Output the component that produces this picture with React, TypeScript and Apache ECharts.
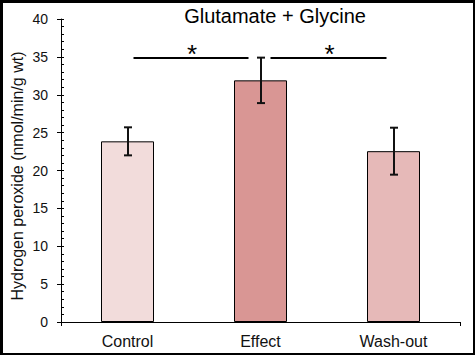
import React, { useEffect, useRef } from "react";
import * as echarts from "echarts";

const categories = ["Control", "Effect", "Wash-out"];
const means = [23.85, 31.9, 22.55];
const errors = [1.85, 3.0, 3.1];
const barColors = ["#F2DCDB", "#D99694", "#E6B9B8"];
const sigPairs = [
  [0, 1, 34.8],
  [1, 2, 34.85],
];
const yTicks = { min: 0, max: 40, interval: 5 };
const titleText = "Glutamate + Glycine";
const yName = "Hydrogen peroxide (nmol/min/g wt)";

const FONT = "'Liberation Sans', Arial, sans-serif";

export default function App() {
  const ref = useRef<HTMLDivElement>(null);
  useEffect(() => {
    document.body.style.margin = "0";
    const chart = echarts.init(ref.current!, null, { renderer: "svg" });
    const sigStartOff = [6, 10];
    const sigEndOff = [-12, -7];
    chart.setOption({
      animation: false,
      backgroundColor: "#ffffff",
      title: {
        text: titleText,
        left: 275,
        top: 6,
        padding: 0,
        textAlign: "center",
        textStyle: { fontFamily: FONT, fontSize: 20, fontWeight: "normal", color: "#000" },
      },
      graphic: [
        {
          type: "text",
          x: 17,
          y: 176,
          rotation: Math.PI / 2,
          style: {
            text: yName,
            fontFamily: FONT,
            fontSize: 16,
            fill: "#111",
            align: "center",
            verticalAlign: "middle",
          },
        },
      ],
      grid: { left: 61, right: 15, top: 19, bottom: 33, containLabel: false },
      xAxis: [
        {
          type: "category",
          data: categories,
          axisLine: { lineStyle: { color: "#000", width: 1 } },
          axisTick: { alignWithLabel: true, length: 4, lineStyle: { color: "#000" } },
          axisLabel: { fontFamily: FONT, fontSize: 16, color: "#111", margin: 11 },
        },
        {
          type: "value",
          position: "bottom",
          min: 0,
          max: 1,
          interval: 1,
          axisLine: { show: false },
          axisTick: { show: true, length: 4, lineStyle: { color: "#000" } },
          axisLabel: { show: false },
          splitLine: { show: false },
        },
      ],
      yAxis: [
        {
          type: "value",
          min: yTicks.min,
          max: yTicks.max,
          interval: yTicks.interval,
          axisLine: { show: true, lineStyle: { color: "#000", width: 1 } },
          axisTick: { show: true, inside: true, length: 3, lineStyle: { color: "#000" } },
          minorTick: { show: true, splitNumber: 5, length: 3, lineStyle: { color: "#000" } },
          axisLabel: { fontFamily: FONT, fontSize: 14, color: "#111", margin: 13 },
          splitLine: { show: false },
        },
        {
          type: "value",
          position: "left",
          min: yTicks.min,
          max: yTicks.max,
          interval: yTicks.interval,
          axisLine: { show: false },
          axisTick: { show: true, inside: false, length: 4, lineStyle: { color: "#000" } },
          axisLabel: { show: false },
          splitLine: { show: false },
        },
      ],
      series: [
        {
          type: "bar",
          xAxisIndex: 0,
          yAxisIndex: 0,
          barWidth: 53,
          data: means.map((v, i) => ({
            value: v,
            itemStyle: { color: barColors[i], borderColor: "#000", borderWidth: 1 },
          })),
        },
        {
          type: "custom",
          xAxisIndex: 0,
          yAxisIndex: 0,
          data: means.map((m, i) => [i, m - errors[i], m + errors[i]]),
          renderItem: (params: any, api: any) => {
            const lo = api.coord([api.value(0), api.value(1)]);
            const hi = api.coord([api.value(0), api.value(2)]);
            const x = Math.round(lo[0]);
            const w = 4;
            const style = { stroke: "#111", lineWidth: 2 };
            return {
              type: "group",
              children: [
                { type: "line", shape: { x1: x, y1: hi[1], x2: x, y2: lo[1] }, style },
                { type: "line", shape: { x1: x - w, y1: hi[1], x2: x + w, y2: hi[1] }, style },
                { type: "line", shape: { x1: x - w, y1: lo[1], x2: x + w, y2: lo[1] }, style },
              ],
            };
          },
          z: 5,
        },
        {
          type: "custom",
          xAxisIndex: 0,
          yAxisIndex: 0,
          data: sigPairs,
          renderItem: (params: any, api: any) => {
            const i = params.dataIndex;
            const a = api.coord([api.value(0), api.value(2)]);
            const b = api.coord([api.value(1), api.value(2)]);
            const x1 = a[0] + sigStartOff[i];
            const x2 = b[0] + sigEndOff[i];
            const y = Math.round(a[1]);
            return {
              type: "group",
              children: [
                { type: "line", shape: { x1, y1: y, x2, y2: y }, style: { stroke: "#000", lineWidth: 2 } },
                {
                  type: "text",
                  x: (x1 + x2) / 2 + 1,
                  y: y + 9,
                  style: {
                    text: "*",
                    fontFamily: FONT,
                    fontSize: 26,
                    fill: "#000",
                    align: "center",
                    verticalAlign: "bottom",
                  },
                },
              ],
            };
          },
          z: 6,
        },
      ],
    });
    return () => chart.dispose();
  }, []);
  return (
    <div style={{ position: "fixed", left: 0, top: 0, width: 475, height: 355 }}>
      <div ref={ref} style={{ width: 475, height: 355 }} />
      <div
        style={{
          position: "absolute",
          left: 0,
          top: 0,
          width: 475,
          height: 355,
          boxSizing: "border-box",
          borderStyle: "solid",
          borderColor: "#000",
          borderWidth: "3px 2px 2px 3px",
          pointerEvents: "none",
        }}
      />
    </div>
  );
}
